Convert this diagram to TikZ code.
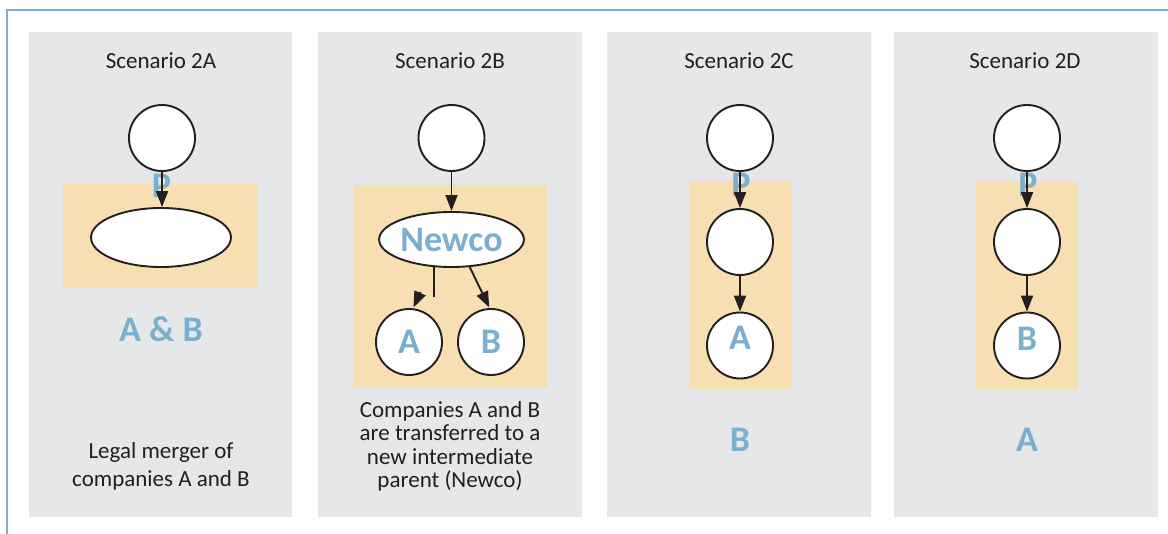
\documentclass[tikz,border=0pt]{standalone}
\usepackage{fontspec}
\setmainfont{Carlito}
\usetikzlibrary{shapes.geometric,arrows.meta}
\definecolor{framec}{RGB}{122,176,206}
\definecolor{panelc}{RGB}{230,231,233}
\definecolor{boxc}{RGB}{247,223,178}
\definecolor{labc}{RGB}{122,176,206}
\definecolor{txtc}{RGB}{35,31,32}
\tikzset{
  ent/.style={circle, draw=txtc, fill=white, line width=1.9pt, minimum size=66pt, inner sep=0pt,
    font=\bfseries\fontsize{36}{40}\selectfont, text=labc},
  oval/.style={ellipse, draw=txtc, fill=white, line width=1.9pt, inner sep=0pt,
    font=\bfseries\fontsize{36}{40}\selectfont, text=labc},
  arr/.style={-{Triangle[length=16pt,width=12pt]}, line width=1.9pt, draw=txtc},
  plain/.style={line width=1.9pt, draw=txtc},
  title/.style={font=\fontsize{23}{28}\selectfont, text=txtc, inner sep=0pt},
  lab/.style={font=\bfseries\fontsize{36}{40}\selectfont, text=labc, inner sep=0pt},
  body/.style={text=txtc, inner sep=0pt, align=center}
}
\begin{document}
\begin{tikzpicture}[x=1pt,y=-1pt]
\useasboundingbox (0,0) rectangle (1168,534);
\fill[white] (0,0) rectangle (1168,534);
\draw[framec, line width=2pt] (7,534) -- (7,10.5) -- (1168,10.5);
% panels
\fill[panelc] (29,32) rectangle (292,517);
\fill[panelc] (318,32) rectangle (582,517);
\fill[panelc] (607,32) rectangle (871,517);
\fill[panelc] (894,32) rectangle (1158,517);
% orange boxes
\fill[boxc] (63,184) rectangle (257,288);
\fill[boxc] (353,185) rectangle (547,388);
\fill[boxc] (689,181) rectangle (792,389);
\fill[boxc] (976,181) rectangle (1078,389);
% titles
\node[title, anchor=base] (tiA) at (161,68.5) {Scenario 2A};
\node[title, anchor=base] (tiB) at (450,68.5) {Scenario 2B};
\node[title, anchor=base] (tiC) at (739,68.5) {Scenario 2C};
\node[title, anchor=base] (tiD) at (1025,68.5) {Scenario 2D};
% P labels
\node[lab, anchor=base] (pA) at (161.5,198) {P};
\node[lab, anchor=base] (pC) at (741,197) {P};
\node[lab, anchor=base] (pD) at (1028,197) {P};
% Scenario 2A
\node[ent] (topA) at (162,138) {};
\node[oval, minimum width=140pt, minimum height=59pt] (eA) at (161,237.5) {};
\draw[arr] (topA) -- (topA |- eA.north);
\node[lab, anchor=base] (abA) at (161,342) {A \& B};
\node[body, font=\fontsize{23}{28}\selectfont, anchor=north] (txA) at (161,442) {Legal merger of\\companies A and B};
% Scenario 2B
\node[ent] (topB) at (451.5,138) {};
\node[oval, minimum width=140pt, minimum height=55pt] (nw) at (451.5,239.5) {Newco};
\node[ent] (cA) at (409,342) {A};
\node[ent] (cB) at (491,342) {B};
\draw[arr] (topB) -- (nw);
\coordinate (nA0) at (434.3,266.5);
\coordinate (nA1) at (434.3,297);
\coordinate (nA2) at (420.5,292);
\coordinate (nA3) at (413.5,307.5);
\draw[plain] (nA0) -- (nA1);
\draw[arr] (nA2) -- (nA3);
\coordinate (nB0) at (469.3,266.2);
\coordinate (nB1) at (489.3,307.5);
\draw[arr] (nB0) -- (nB1);
\node[body, font=\fontsize{23}{23.5}\selectfont, anchor=north] (txB) at (450,401) {Companies A and B\\are transferred to a\\new intermediate\\parent (Newco)};
% Scenario 2C
\node[ent] (topC) at (740,138) {};
\node[ent] (midC) at (740,242) {};
\node[ent, text depth=16pt] (botC) at (740,345.5) {A};
\draw[arr] (topC) -- (midC);
\draw[arr] (midC) -- (botC);
\node[lab, anchor=base] (lbC) at (740,451.5) {B};
% Scenario 2D
\node[ent] (topD) at (1027,138) {};
\node[ent] (midD) at (1027,242) {};
\node[ent, text depth=14pt] (botD) at (1027,345.5) {B};
\draw[arr] (topD) -- (midD);
\draw[arr] (midD) -- (botD);
\node[lab, anchor=base] (lbD) at (1027,451.5) {A};
\end{tikzpicture}
\end{document}
